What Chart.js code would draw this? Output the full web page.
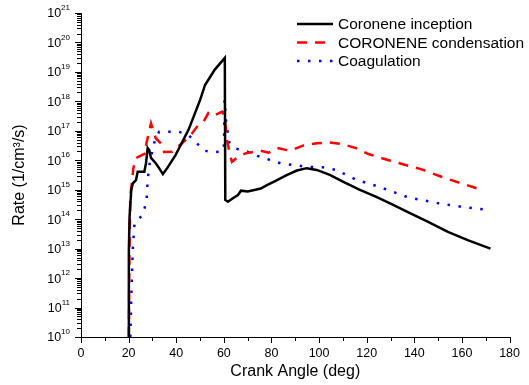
<!DOCTYPE html>
<html>
<head>
<meta charset="utf-8">
<script src="https://cdn.jsdelivr.net/npm/chart.js@4.4.1/dist/chart.umd.min.js"></script>
<style>
  body { margin: 0; background: #fff; }
  #wrap { width: 529px; height: 385px; }
</style>
</head>
<body>
<div id="wrap"><canvas id="rateChart" width="529" height="385"></canvas></div>
<script>
const FONT = "'Liberation Sans', Arial, sans-serif";

// crank angle (deg) / rate (1/cm^3/s)
const inceptionAngle = [20.0, 20.1, 20.4, 21.1, 21.8, 23.1, 23.8, 26.6, 27.3, 28.0, 28.7, 29.4, 31.4, 32.8, 34.4, 36.2,
  39.7, 45.2, 50.0, 52.1, 53.5, 56.2, 60.4, 60.6, 61.7, 63.8, 65.9, 67.2, 70.0, 72.8, 75.5, 78.3, 81.1, 86.6, 90.7,
  94.8, 99.0, 104.5, 110.0, 116.9, 123.8, 130.7, 137.5, 145.8, 154.1, 162.4, 172.0];
const inceptionRate = [1e10, 8.9e12, 1.2e14, 9.8e14, 1.66e15, 2.1e15, 4.1e15, 4.1e15, 7.9e15, 2.6e16, 2.2e16, 1.2e16,
  7.9e15, 5.4e15, 3.4e15, 5.4e15, 1.5e16, 1.1e17, 1.1e18, 3.6e18, 5.4e18, 1.2e19, 3.0e19, 4.5e14, 3.9e14, 5.1e14,
  6.6e14, 9.3e14, 8.7e14, 9.8e14, 1.1e15, 1.45e15, 1.9e15, 3.2e15, 4.5e15, 5.4e15, 4.7e15, 3.2e15, 1.9e15, 1.0e15,
  5.8e14, 3.2e14, 1.7e14, 8.1e13, 3.7e13, 1.95e13, 1.0e13];

const condensationAngle = [20.1, 20.3, 20.7, 22.0, 23.1, 27.3, 27.5, 29.4, 31.4, 34.2, 34.9, 38.3, 42.4, 45.9, 49.3,
  51.4, 53.5, 55.5, 59.3, 60.4, 61.3, 62.5, 63.4, 65.9, 69.3, 75.5, 78.8, 82.4, 87.9, 93.5, 99.0, 104.5, 110.0,
  115.5, 121.0, 129.3, 137.5, 143.1, 151.4, 159.6, 166.5];
const condensationRate = [1e10, 3.2e12, 5.8e14, 5.4e15, 1.2e16, 1.74e16, 3.8e16, 1.8e17, 5.6e16, 3.3e16, 1.9e16,
  1.95e16, 3.8e16, 6.8e16, 1.6e17, 2.0e17, 4.0e17, 3.2e17, 4.5e17, 3.0e17, 5.0e16, 1.6e16, 8.9e15, 1.3e16, 1.74e16,
  2.1e16, 1.8e16, 2.6e16, 2.1e16, 3.2e16, 3.8e16, 4.0e16, 3.5e16, 2.6e16, 1.6e16, 1.0e16, 6.5e15, 4.9e15, 2.75e15,
  1.66e15, 1.1e15];

const coagulationAngle = [20.7, 21.1, 21.5, 21.8, 22.5, 25.9, 27.5, 28.0, 28.7, 30.7, 32.8, 41.1, 45.2, 48.6, 52.0,
  54.8, 59.0, 60.0, 60.3, 61.0, 62.4, 64.5, 67.2, 70.0, 72.8, 75.5, 79.7, 83.8, 89.3, 94.8, 101.7, 107.2, 115.5,
  125.1, 137.5, 150.0, 160.3, 170.6];
const coagulationRate = [1e10, 1.8e11, 2.4e12, 1.15e13, 7.4e13, 1.4e14, 4.0e14, 2.1e15, 6.9e15, 3.8e16, 9.3e16,
  9.3e16, 7.2e16, 3.8e16, 2.1e16, 1.9e16, 1.95e16, 2.5e16, 1.1e18, 1.8e17, 3.8e16, 2.6e16, 2.2e16, 1.95e16, 1.5e16,
  1.3e16, 1.0e16, 7.9e15, 6.9e15, 6.0e15, 5.75e15, 4.7e15, 2.2e15, 1.26e15, 5.5e14, 3.5e14, 2.6e14, 2.1e14];

const xTicks = [0, 20, 40, 60, 80, 100, 120, 140, 160, 180];
const yTickPowers = [10, 11, 12, 13, 14, 15, 16, 17, 18, 19, 20, 21];

const pts = (xs, ys) => xs.map((x, i) => ({ x: x, y: ys[i] }));

// tick marks, superscript y labels and the line legend
const axisExtras = {
  id: 'axisExtras',
  afterDraw(chart) {
    const { ctx, chartArea, scales } = chart;
    const xs = scales.x, ys = scales.y;
    ctx.save();
    ctx.strokeStyle = '#000';
    ctx.lineWidth = 1;
    ctx.beginPath();
    for (let v = 0; v <= 180; v += 10) {
      const px = Math.round(xs.getPixelForValue(v)) + 0.5;
      ctx.moveTo(px, chartArea.bottom);
      ctx.lineTo(px, chartArea.bottom + (v % 20 === 0 ? 6 : 4));
    }
    yTickPowers.forEach((p, i) => {
      for (let m = 1; m <= 9; m++) {
        if (m > 1 && i === yTickPowers.length - 1) break;
        const py = Math.round(ys.getPixelForValue(m * Math.pow(10, p))) + 0.5;
        ctx.moveTo(chartArea.left, py);
        ctx.lineTo(chartArea.left - (m === 1 ? 6 : 4), py);
      }
    });
    ctx.stroke();

    ctx.fillStyle = '#000';
    ctx.textBaseline = 'middle';
    yTickPowers.forEach(p => {
      const py = ys.getPixelForValue(Math.pow(10, p));
      ctx.font = '8px ' + FONT;
      ctx.textAlign = 'left';
      const sup = String(p);
      const supW = ctx.measureText(sup).width;
      const right = chartArea.left - 11;
      ctx.fillText(sup, right - supW, py - 5);
      ctx.font = '12.5px ' + FONT;
      ctx.textAlign = 'right';
      ctx.fillText('10', right - supW, py + 1);
    });

    ctx.font = '15.5px ' + FONT;
    ctx.textAlign = 'left';
    chart.data.datasets.forEach((ds, i) => {
      const y = 24 + i * 18.5;
      ctx.beginPath();
      ctx.strokeStyle = ds.borderColor;
      ctx.lineWidth = ds.borderWidth;
      ctx.setLineDash(ds.borderDash || []);
      ctx.moveTo(297, y);
      ctx.lineTo(333, y);
      ctx.stroke();
      ctx.setLineDash([]);
      ctx.fillText(ds.label, 338, y + 1);
    });
    ctx.restore();
  }
};

new Chart(document.getElementById('rateChart'), {
  type: 'scatter',
  data: {
    datasets: [
      { label: 'Coronene inception', data: pts(inceptionAngle, inceptionRate),
        borderColor: '#000000', borderWidth: 2.5, showLine: true, pointRadius: 0 },
      { label: 'CORONENE condensation', data: pts(condensationAngle, condensationRate),
        borderColor: '#ff0000', borderWidth: 2.5, borderDash: [10, 8], showLine: true, pointRadius: 0 },
      { label: 'Coagulation', data: pts(coagulationAngle, coagulationRate),
        borderColor: '#0000ff', borderWidth: 2.5, borderDash: [2.5, 8.5], showLine: true, pointRadius: 0 }
    ]
  },
  options: {
    responsive: false,
    animation: false,
    layout: { padding: { top: 13, right: 13, left: 0, bottom: 0 } },
    plugins: { legend: { display: false }, tooltip: { enabled: false } },
    scales: {
      x: {
        type: 'linear', min: 0, max: 180,
        afterFit: s => { s.height = 48; },
        afterBuildTicks: s => { s.ticks = xTicks.map(v => ({ value: v })); },
        grid: { display: false, drawTicks: false },
        border: { color: '#000', width: 1 },
        ticks: { color: '#000', font: { family: FONT, size: 12.5 }, padding: 9, maxRotation: 0 },
        title: { display: true, text: 'Crank Angle (deg)', color: '#000',
                 font: { family: FONT, size: 16 }, padding: { top: 0, bottom: 4 } }
      },
      y: {
        type: 'logarithmic', min: 1e10, max: 1e21,
        afterFit: s => { s.width = 81; },
        grid: { display: false },
        border: { color: '#000', width: 1 },
        ticks: { display: false },
        title: { display: true, text: 'Rate (1/cm³/s)', color: '#000',
                 font: { family: FONT, size: 16 }, padding: { top: 10, bottom: 0 } }
      }
    }
  },
  plugins: [axisExtras]
});
</script>
</body>
</html>
